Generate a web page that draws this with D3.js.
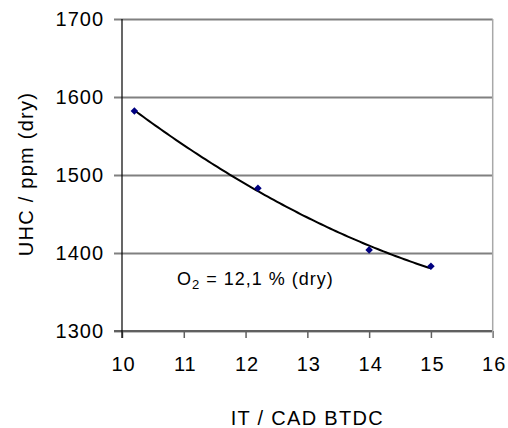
<!DOCTYPE html>
<html>
<head>
<meta charset="utf-8">
<script src="https://cdn.jsdelivr.net/npm/d3@7"></script>
<style>
  html, body { margin: 0; padding: 0; background: #fff; }
  svg { display: block; }
  text { font-family: "Liberation Sans", Arial, sans-serif; fill: #000; }
</style>
</head>
<body>
<svg id="chart" width="508" height="428"></svg>
<script>
// ---- data ----
const itValues = [10.2, 12.2, 14, 15];
const uhcValues = [1582, 1483, 1404, 1383];
const xTickValues = [10, 11, 12, 13, 14, 15, 16];
const yTickValues = [1300, 1400, 1500, 1600, 1700];
const xLabel = "IT / CAD BTDC";
const yLabel = "UHC / ppm (dry)";

// ---- layout ----
const pL = 122, pR = 492.7, pT = 19, pB = 331;
const svg = d3.select("#chart");
const x = d3.scaleLinear().domain([10, 16]).range([pL, pR]);
const y = d3.scaleLinear().domain([1300, 1700]).range([pB, pT]);

// y gridlines + outer ticks via axis placed at right edge
const yAxis = d3.axisLeft(y).tickValues(yTickValues).tickFormat(d3.format("d"))
  .tickSize(pR - pL + 8).tickSizeOuter(0).tickPadding(11);
const gy = svg.append("g").attr("transform", `translate(${pR},0)`).call(yAxis);
gy.select(".domain").remove();
gy.selectAll(".tick line").attr("stroke", "#808080").attr("stroke-width", 2);
gy.selectAll(".tick text")
  .attr("font-size", 20).attr("letter-spacing", 1)
  .attr("font-family", "Liberation Sans, Arial, sans-serif")
  .attr("dy", "0.3em").attr("x", -(pR - pL + 8) - 10);

// x axis
const xAxis = d3.axisBottom(x).tickValues(xTickValues).tickFormat(d3.format("d"))
  .tickSize(7).tickSizeOuter(0);
const gx = svg.append("g").attr("transform", `translate(0,${pB})`).call(xAxis);
gx.select(".domain").remove();
gx.selectAll(".tick line").attr("stroke", "#606060").attr("stroke-width", 1.5);
gx.selectAll(".tick text")
  .attr("font-size", 20).attr("letter-spacing", 1)
  .attr("font-family", "Liberation Sans, Arial, sans-serif")
  .attr("y", 26).attr("dy", "0.71em").attr("dx", "0.05em");

// bottom axis line
svg.append("line").attr("x1", pL - 8).attr("x2", pR).attr("y1", pB).attr("y2", pB)
  .attr("stroke", "#606060").attr("stroke-width", 2);
// right border
svg.append("line").attr("x1", pR).attr("x2", pR).attr("y1", pT).attr("y2", pB + 7)
  .attr("stroke", "#a8a8a8").attr("stroke-width", 1.5);
// left axis
svg.append("line").attr("x1", pL).attr("x2", pL).attr("y1", pT).attr("y2", pB + 7)
  .attr("stroke", "#000").attr("stroke-width", 1.2);

// quadratic least-squares trendline
function quadFit(xs, ys) {
  const n = xs.length;
  let s = [0,0,0,0,0], t = [0,0,0];
  for (let i = 0; i < n; i++) {
    for (let k = 0; k <= 4; k++) s[k] += Math.pow(xs[i], k);
    for (let k = 0; k <= 2; k++) t[k] += ys[i] * Math.pow(xs[i], k);
  }
  const A = [[s[0], s[1], s[2], t[0]], [s[1], s[2], s[3], t[1]], [s[2], s[3], s[4], t[2]]];
  for (let i = 0; i < 3; i++) {
    for (let j = i + 1; j < 3; j++) {
      const fct = A[j][i] / A[i][i];
      for (let k = i; k < 4; k++) A[j][k] -= fct * A[i][k];
    }
  }
  const c = [0,0,0];
  for (let i = 2; i >= 0; i--) {
    let v = A[i][3];
    for (let k = i + 1; k < 3; k++) v -= A[i][k] * c[k];
    c[i] = v / A[i][i];
  }
  return xv => c[0] + c[1] * xv + c[2] * xv * xv;
}
const fit = quadFit(itValues, uhcValues);
const xs0 = d3.min(itValues), xs1 = d3.max(itValues);
const trend = d3.range(0, 101).map(i => xs0 + (xs1 - xs0) * i / 100).map(v => [v, fit(v)]);
svg.append("path").datum(trend)
  .attr("d", d3.line().x(d => x(d[0])).y(d => y(d[1])))
  .attr("fill", "none").attr("stroke", "#000").attr("stroke-width", 2);

// markers
svg.selectAll(".pt").data(itValues.map((v, i) => [v, uhcValues[i]])).join("path")
  .attr("class", "pt")
  .attr("d", d3.symbol(d3.symbolDiamond2, 36))
  .attr("transform", d => `translate(${x(d[0])},${y(d[1])})`)
  .attr("fill", "#000080");

// annotation
const ann = svg.append("text").attr("x", 177).attr("y", 285).attr("font-size", 18).attr("letter-spacing", 1);
ann.append("tspan").text("O");
ann.append("tspan").attr("font-size", 13).attr("dy", 4).text("2");
ann.append("tspan").attr("dy", -4).text(" = 12,1 % (dry)");

// axis titles
svg.append("text").attr("x", (pL + pR) / 2).attr("y", 425)
  .attr("text-anchor", "middle").attr("font-size", 20).attr("letter-spacing", 1.3).text(xLabel);
svg.append("text").attr("transform", "translate(33,174) rotate(-90)")
  .attr("text-anchor", "middle").attr("font-size", 20).attr("letter-spacing", 1.25).text(yLabel);
</script>
</body>
</html>
